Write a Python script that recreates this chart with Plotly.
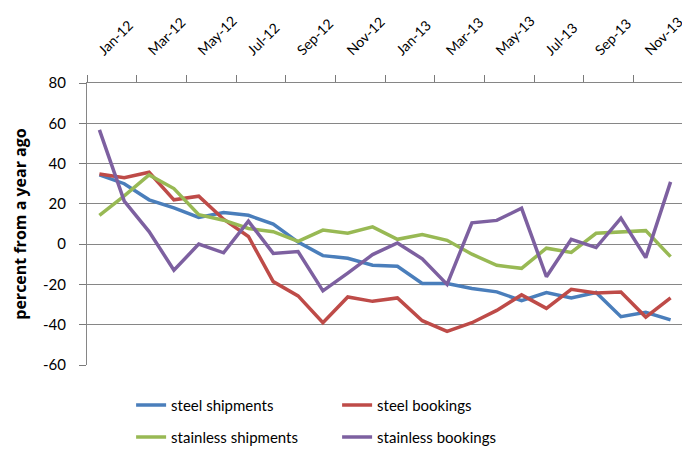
import plotly.graph_objects as go

months = ['Jan-12', 'Feb-12', 'Mar-12', 'Apr-12', 'May-12', 'Jun-12', 'Jul-12', 'Aug-12',
          'Sep-12', 'Oct-12', 'Nov-12', 'Dec-12', 'Jan-13', 'Feb-13', 'Mar-13', 'Apr-13',
          'May-13', 'Jun-13', 'Jul-13', 'Aug-13', 'Sep-13', 'Oct-13', 'Nov-13', 'Dec-13']

steel_shipments = [34.4, 30, 22, 18, 13.3, 15.7, 14.3, 10, 1, -5.7, -7, -10.5,
                   -11, -19.5, -19.5, -22, -23.7, -28, -24, -26.7, -24, -36, -33.8, -37.6]
steel_bookings = [34.8, 33, 35.7, 22, 23.8, 12.4, 3.8, -18.6, -25.7, -39, -26.2, -28.4,
                  -26.7, -38, -43.3, -39, -32.9, -25.2, -31.9, -22.4, -24.3, -23.8, -36.2, -26.7]
stainless_shipments = [14.3, 24, 34.4, 27.6, 14.6, 11.9, 7.8, 6.2, 1.4, 7, 5.4, 8.6,
                       2.4, 4.8, 1.9, -5, -10.5, -12, -2, -4.1, 5.4, 6.2, 6.7, -6.2]
stainless_bookings = [56.7, 21.4, 6.2, -12.9, 0, -4.3, 11.4, -4.6, -3.7, -23.2, -14.4, -5.2,
                      0.6, -7.3, -20, 10.6, 11.8, 17.8, -16.2, 2.4, -1.7, 12.9, -6.7, 30.9]

y_ticks = [80, 60, 40, 20, 0, -20, -40, -60]
y_labels = ['80', '60', '40', '20', '0', '-20', '-40', '-60']

series = [
    ('steel shipments', steel_shipments, '#4a7ebb', 'legend'),
    ('steel bookings', steel_bookings, '#be4b48', 'legend'),
    ('stainless shipments', stainless_shipments, '#98b954', 'legend2'),
    ('stainless bookings', stainless_bookings, '#7d60a0', 'legend2'),
]

FONT = 'Lato, Liberation Sans, sans-serif'
GRID = '#868686'

idx = list(range(len(months)))
# tick marks sit between categories, every second month
boundaries = [i - 0.5 for i in range(0, len(months) + 1, 2)]

fig = go.Figure()
for name, values, color, leg in series:
    fig.add_trace(go.Scatter(x=idx, y=values, name=name, mode='lines',
                             line=dict(color=color, width=3.5), legend=leg))

# invisible trace so the label axis is drawn
fig.add_trace(go.Scatter(x=[idx[0]], y=[None], xaxis='x2', showlegend=False,
                         hoverinfo='skip'))

fig.update_layout(
    width=690, height=458,
    margin=dict(l=79, r=15, t=75, b=90),
    plot_bgcolor='white', paper_bgcolor='white',
    font=dict(family=FONT, size=15, color='black'),
    xaxis=dict(range=[-0.5, 23.5], side='top', tickmode='array', tickvals=boundaries,
               showticklabels=False, ticks='outside', ticklen=7, tickwidth=1,
               tickcolor='#7a7a7a', showgrid=False, zeroline=False, showline=True,
               linecolor=GRID, linewidth=1, automargin=False),
    xaxis2=dict(range=[-0.5, 23.5], overlaying='x', anchor='y', side='top',
                tickmode='array', tickvals=idx[::2], ticktext=months[::2],
                tickangle=-45, ticks='', showgrid=False, zeroline=False,
                showline=False, ticklabelstandoff=21, tickfont=dict(size=14),
                automargin=False),
    yaxis=dict(range=[-60, 80], tickmode='array', tickvals=y_ticks, ticktext=y_labels,
               showgrid=True, gridcolor=GRID, gridwidth=1,
               zeroline=False, showline=True, linecolor=GRID, linewidth=1,
               ticks='outside', ticklen=7, tickcolor='#7a7a7a', ticklabelstandoff=10,
               automargin=False,
               title=dict(text='<b>percent from a year ago</b>',
                          font=dict(family='Open Sans, sans-serif', size=16),
                          standoff=12)),
    legend=dict(orientation='h', x=0.074, xanchor='left', y=-0.143, yanchor='middle',
                entrywidth=161, entrywidthmode='pixels', font=dict(size=15),
                bgcolor='rgba(0,0,0,0)'),
    legend2=dict(orientation='h', x=0.074, xanchor='left', y=-0.256, yanchor='middle',
                 entrywidth=161, entrywidthmode='pixels', font=dict(size=15),
                 bgcolor='rgba(0,0,0,0)'),
    showlegend=True,
)

fig.write_html('out.html')
